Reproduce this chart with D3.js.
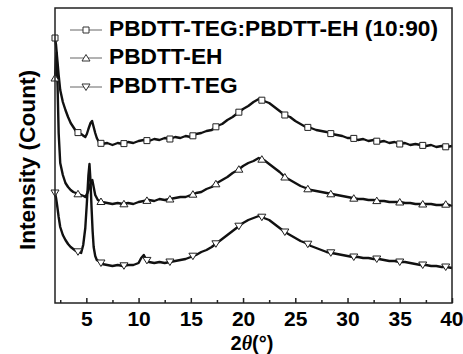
<!DOCTYPE html>
<html><head><meta charset="utf-8">
<script src="https://cdn.jsdelivr.net/npm/d3@7"></script>
<style>
html,body{margin:0;padding:0;background:#fff;}
svg{display:block;}
text{font-family:"Liberation Sans",Arial,sans-serif;font-weight:bold;fill:#000;}
</style></head><body>
<script>
// ---------------- data ----------------
const seriesNames = ["PBDTT-TEG:PBDTT-EH (10:90)", "PBDTT-EH", "PBDTT-TEG"];
const markerTypes = ["square", "up", "down"];
const majorTicks = [5, 10, 15, 20, 25, 30, 35, 40];
const minorTicks = [2.5, 7.5, 12.5, 17.5, 22.5, 27.5, 32.5, 37.5];
const markerAngles = [2.0, 4.2, 6.4, 8.6, 10.8, 13.0, 15.2, 17.4, 19.6, 21.8, 24.0, 26.2, 28.4, 30.6, 32.8, 35.0, 37.2, 39.4];

const blendAngle = [2.0,2.1,2.2,2.35,2.5,2.75,3.0,3.25,3.5,3.75,4.0,4.25,4.5,4.75,4.9,5.05,5.2,5.4,5.55,5.7,5.85,6.0,6.2,
 6.5,7,7.5,8,8.5,9,9.5,10,10.5,11,11.5,12,12.5,13,13.5,14,14.5,15,15.5,16,16.5,17,17.5,18,18.5,19,19.5,20,20.5,21,21.5,22,22.5,23,23.5,24,24.5,25,25.5,26,26.5,27,27.5,28,28.5,29,29.5,30,30.5,31,31.5,32,32.5,33,33.5,34,34.5,35,35.5,36,36.5,37,37.5,38,38.5,39,39.5,40];
const blendValue = [265,258,246,228,213,201,193,186,180,176,172,170,169,167,166,169,174,180,182,176,170,165,161,
 159,160,158,160,159,161,160,162,163,162,164,163,165,164,166,165,167,166,169,170,172,173,177,179,183,186,190,194,197,201,204,202,200,196,192,188,186,182,179,176,175,173,172,171,169,168,167,165,165,163,164,162,163,161,162,160,161,159,160,158,159,158,157,158,156,157,156,157];

const ehAngle = [2.0,2.1,2.15,2.25,2.35,2.5,2.75,3.0,3.25,3.5,3.75,4.0,4.25,4.5,4.75,4.9,5.1,5.3,5.45,5.57,5.7,5.85,6.1,6.3,
 6.5,7,7.5,8,8.5,9,9.5,10,10.5,11,11.5,12,12.5,13,13.5,14,14.5,15,15.5,16,16.5,17,17.5,18,18.5,19,19.5,20,20.5,21,21.5,22,22.5,23,23.5,24,24.5,25,25.5,26,26.5,27,27.5,28,28.5,29,29.5,30,30.5,31,31.5,32,32.5,33,33.5,34,34.5,35,35.5,36,36.5,37,37.5,38,38.5,39,39.5,40];
const ehValue = [225,245,250,215,170,140,128,120,116,113,111,110,109,108,107,106,110,116,121,123,116,108,103,102,
 101,100,99,100,99,100,99,101,102,103,102,104,103,104,105,106,106,108,110,111,114,116,120,123,126,130,133,137,140,142,145,143,139,135,131,126,123,120,117,115,113,112,111,110,109,108,107,106,105,104,104,103,103,102,102,101,101,101,100,100,99,99,99,99,98,98,99,97];

const tegAngle = [2.0,2.1,2.2,2.35,2.5,2.75,3.0,3.25,3.5,3.75,4.0,4.25,4.5,4.7,4.9,5.05,5.2,5.3,5.4,5.5,5.6,5.7,5.85,6.0,6.3,
 6.5,7,7.5,8,8.5,9,9.5,10,10.25,10.5,10.75,11,11.5,12,12.5,13,13.5,14,14.5,15,15.5,16,16.5,17,17.5,18,18.5,19,19.5,20,20.5,21,21.5,22,22.5,23,23.5,24,24.5,25,25.5,26,26.5,27,27.5,28,28.5,29,29.5,30,30.5,31,31.5,32,32.5,33,33.5,34,34.5,35,35.5,36,36.5,37,37.5,38,38.5,39,39.5,40];
const tegValue = [110,105,98,86,76,68,63,59,56,54,52,51,50,58,75,100,128,139,122,95,72,56,47,43,41,
 39,38,37,38,37,38,38,40,45,48,43,41,40,41,40,41,42,43,44,46,48,51,53,56,60,64,68,72,76,80,83,85,87,85,83,79,75,71,68,65,62,60,57,55,53,51,50,49,48,47,46,46,45,45,44,44,43,42,42,41,41,40,39,38,38,37,37,36,36,35];

const seriesAngles = [blendAngle, ehAngle, tegAngle];
const seriesValues = [blendValue, ehValue, tegValue];

// ---------------- drawing ----------------
const W = 463, H = 354;
const svg = d3.select("body").append("svg").attr("width", W).attr("height", H);
const x = d3.scaleLinear().domain([2, 40]).range([55, 452]);
const y = d3.scaleLinear().domain([0, 295]).range([303, 8]);

const line = d3.line().x(d => x(d[0])).y(d => y(d[1]));

function markerPath(type, cx, cy) {
  if (type === "square") return `M${cx-3},${cy-3}h6v6h-6Z`;
  if (type === "up") return `M${cx},${cy-3.5}L${cx+4},${cy+3}L${cx-4},${cy+3}Z`;
  return `M${cx},${cy+3.5}L${cx+4},${cy-3}L${cx-4},${cy-3}Z`;
}

seriesNames.forEach((name, i) => {
  const pts = seriesAngles[i].map((a, j) => [a, seriesValues[i][j]]);
  svg.append("path").attr("d", line(pts)).attr("fill", "none")
    .attr("stroke", "#111").attr("stroke-width", 2.4).attr("stroke-linejoin", "round");
  const interp = a => {
    const A = seriesAngles[i], V = seriesValues[i];
    const k = d3.bisectRight(A, a);
    if (k <= 0) return V[0];
    if (k >= A.length) return V[A.length - 1];
    const t = (a - A[k-1]) / (A[k] - A[k-1]);
    return V[k-1] + t * (V[k] - V[k-1]);
  };
  svg.append("g").selectAll("path").data(markerAngles).join("path")
    .attr("d", a => markerPath(markerTypes[i], x(a), y(interp(a))))
    .attr("fill", "#fff").attr("stroke", "#222").attr("stroke-width", 1);
});

// frame
svg.append("rect").attr("x", 55).attr("y", 8).attr("width", 397).attr("height", 295)
  .attr("fill", "none").attr("stroke", "#222").attr("stroke-width", 1.5);

// axes
const gMajor = svg.append("g").attr("transform", "translate(0,303)")
  .call(d3.axisBottom(x).tickValues(majorTicks).tickSizeInner(-5).tickSizeOuter(0).tickPadding(8).tickFormat(d3.format("d")));
gMajor.select(".domain").remove();
gMajor.selectAll("line").attr("stroke", "#222").attr("stroke-width", 1.5);
gMajor.selectAll("text").style("font-size", "21px").style("font-family", "'Liberation Sans',Arial,sans-serif").style("font-weight", "bold").attr("fill", "#000");
gMajor.selectAll(".tick").filter(d => d === 40).select("text").attr("text-anchor", "end").attr("x", 11);

const gMinor = svg.append("g").attr("transform", "translate(0,303)")
  .call(d3.axisBottom(x).tickValues(minorTicks).tickSizeInner(-3).tickSizeOuter(0).tickFormat(""));
gMinor.select(".domain").remove();
gMinor.selectAll("line").attr("stroke", "#222").attr("stroke-width", 1.5);

// axis titles
const xt = svg.append("text").attr("x", 252).attr("y", 349.5).attr("text-anchor", "middle").style("font-size", "20px");
xt.append("tspan").text("2");
xt.append("tspan").text("θ").style("font-family", "'Liberation Serif','Times New Roman',serif").style("font-style", "italic");
xt.append("tspan").text("(°)");

svg.append("text").attr("transform", "translate(35,160) rotate(-90)").attr("text-anchor", "middle")
  .style("font-size", "22.7px").text("Intensity (Count)");

// legend
const legY = [30, 58, 87];
seriesNames.forEach((name, i) => {
  svg.append("line").attr("x1", 70).attr("x2", 102).attr("y1", legY[i]).attr("y2", legY[i])
    .attr("stroke", "#666").attr("stroke-width", 1);
  svg.append("path").attr("d", markerPath(markerTypes[i], 86, legY[i]))
    .attr("fill", "#fff").attr("stroke", "#333").attr("stroke-width", 1);
  svg.append("text").attr("x", 109).attr("y", legY[i] + 5.5).style("font-size", "22.7px").text(name);
});
</script>
</body></html>
